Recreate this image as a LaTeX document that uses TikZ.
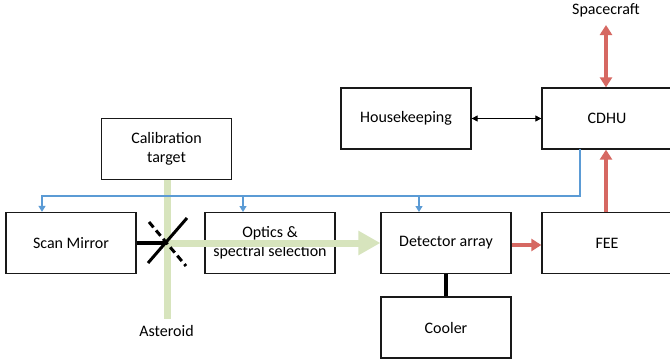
\documentclass[tikz,border=0pt]{standalone}
\usepackage{fontspec}
\setmainfont{Carlito}
\usetikzlibrary{arrows.meta,calc}
\definecolor{beam}{RGB}{215,228,189}
\definecolor{redarr}{RGB}{214,104,98}
\definecolor{bluearr}{RGB}{91,155,213}
\tikzset{
  box/.style={draw=black!90, line width=1.3pt, minimum width=130pt, minimum height=61pt, inner sep=0pt, align=center, font=\fontsize{16}{19.5}\selectfont},
  lbl/.style={inner sep=0pt, font=\fontsize{16}{19.5}\selectfont},
  greenbeam/.style={draw=beam, line width=7pt},
  redconn/.style={draw=redarr, line width=4pt},
  blueconn/.style={draw=bluearr, line width=1.2pt},
  thickblack/.style={draw=black, line width=4pt},
  mirror/.style={draw=black, line width=3pt},
}
\begin{document}
\begin{tikzpicture}[x=1pt,y=-1pt]
\useasboundingbox (0,0) rectangle (670,362);
\clip (0,0) rectangle (670,362);
\fill[white] (0,0) rectangle (670,362);
% nodes
\node[box] (cal) at (166.5,149) {Calibration\\target};
\node[box] (scan) at (71,243) {Scan Mirror};
\node[box] (optics) at (270,243) {Optics \&\\spectral selection};
\node[box] (det) at (446,243) {Detector array};
\node[box] (fee) at (607,243) {FEE};
\node[box] (hk) at (406,118.5) {Housekeeping};
\node[box] (cdhu) at (607,118.5) {CDHU};
\node[box] (cooler) at (446,327.5) {Cooler};
\node[lbl] (sc) at (606,10) {Spacecraft};
\node[lbl] (ast) at (166.5,331) {Asteroid};
% green beam
\coordinate (mc) at (167,243);
\coordinate (bbot) at (167,319);
\draw[greenbeam] (cal.south -| mc) -- (bbot);
\draw[greenbeam, -{Triangle[width=23pt,length=22pt]}] (mc) -- (det.west);
% mirror
\coordinate (m1a) at (187,218);
\coordinate (m1b) at (148,263);
\coordinate (m2a) at (149,222);
\coordinate (m2b) at (186,266);
\draw[mirror] (m1a) -- (m1b);
\draw[mirror, dash pattern=on 7pt off 4pt] (m2a) -- (m2b);
\draw[thickblack] (scan.east) -- (mc);
% blue control lines
\coordinate (bs) at (580,149);
\coordinate (bc) at (580,196);
\coordinate (bl) at (42,196);
\draw[blueconn, -{Triangle[width=7pt,length=6pt]}] (bs) -- (bc) -- (bl) -- (bl |- scan.north);
\draw[blueconn, -{Triangle[width=7pt,length=6pt]}] (243,196) -- (243,212);
\draw[blueconn, -{Triangle[width=7pt,length=6pt]}] (419,196) -- (419,212);
% red arrows
\coordinate (scb) at (606,25);
\draw[redconn, {Triangle[width=12pt,length=10pt]}-{Triangle[width=12pt,length=10pt]}] (scb) -- (cdhu.north -| scb);
\draw[redconn, -{Triangle[width=12pt,length=10pt]}] (fee.north -| scb) -- (cdhu.south -| scb);
\draw[redconn, -{Triangle[width=12pt,length=10pt]}] ($(det.east)+(0,2)$) -- ($(fee.west)+(0,2)$);
% black
\draw[line width=1pt, {Triangle[width=6pt,length=6pt]}-{Triangle[width=6pt,length=6pt]}] (hk.east) -- (cdhu.west);
\draw[thickblack] (det.south) -- (cooler.north);
\end{tikzpicture}
\end{document}
